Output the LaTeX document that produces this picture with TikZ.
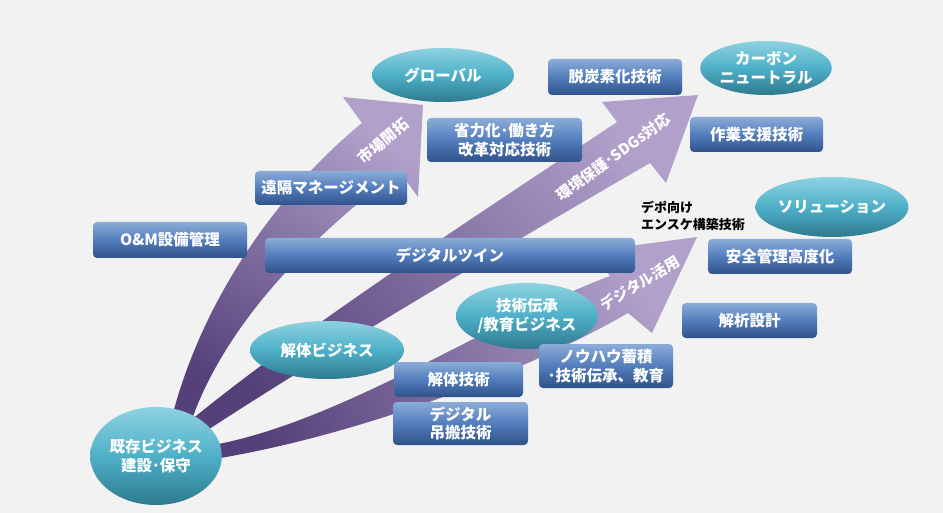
\documentclass[tikz,border=0pt]{standalone}
\usepackage{fontspec}
\usetikzlibrary{shapes.geometric}
\newfontfamily\jp{Noto Sans CJK JP}
\definecolor{bg}{HTML}{F2F2F2}
\definecolor{boxtop}{RGB}{140,172,216}
\definecolor{boxmid}{RGB}{82,125,188}
\definecolor{boxbot}{RGB}{48,82,138}
\definecolor{elltop}{RGB}{142,210,224}
\definecolor{ellmid}{RGB}{78,176,200}
\definecolor{ellbot}{RGB}{46,122,142}
\definecolor{arrdark}{RGB}{86,64,122}
\definecolor{arrlight}{RGB}{176,160,202}
\begin{document}
\begin{tikzpicture}[x=1pt,y=-1pt,
  box/.style={rectangle, rounded corners=4pt, top color=boxtop, bottom color=boxbot, middle color=boxmid,
    text=white, font=\jp\bfseries\fontsize{15.5}{18.5}\selectfont, align=center, inner sep=0pt},
  oval/.style={ellipse, top color=elltop, bottom color=ellbot, middle color=ellmid,
    text=white, font=\jp\bfseries\fontsize{15.5}{18.5}\selectfont, align=center, inner sep=0pt},
  arrlabel/.style={text=white, font=\jp\bfseries\fontsize{15}{18}\selectfont, inner sep=0pt},
  band/.style={top color=arrlight, bottom color=arrdark}
]
\useasboundingbox (0,0) rectangle (943,513);
\fill[bg] (0,0) rectangle (943,513);

% arrows
\shade[band, shading angle=-35]
  (170,425) .. controls (200,300) and (280,190) .. (362,123) -- (343,97) -- (423,105) -- (418,197) -- (399,171)
  .. controls (320,230) and (225,320) .. (190,425) -- cycle;
\shade[band, shading angle=-53]
  (185,425) .. controls (300,330) and (470,220) .. (617,122) -- (602,102) -- (698,95) -- (666,183) -- (650,163)
  .. controls (500,250) and (330,350) .. (200,435) -- cycle;
\shade[band, shading angle=-62]
  (195,448) .. controls (330,430) and (480,325) .. (610,276) -- (592,251) -- (697,237) -- (652,333) -- (628,313)
  .. controls (530,370) and (350,440) .. (195,462) -- cycle;

\node[arrlabel, rotate=40] (lab1) at (383,141) {市場開拓};
\node[arrlabel, rotate=36] (lab2) at (613,157) {環境保護･SDGs対応};
\node[arrlabel, rotate=31] (lab3) at (640,283) {デジタル活用};

% boxes
\node[box, minimum width=152pt, minimum height=34pt] (remote) at (331,188) {遠隔マネージメント};
\node[box, minimum width=155pt, minimum height=44pt] (shoryoku) at (504.5,140) {省力化･働き方\\改革対応技術};
\node[box, minimum width=134pt, minimum height=36pt] (datsu) at (615,77) {脱炭素化技術};
\node[box, minimum width=133pt, minimum height=35pt] (sagyo) at (756.5,134.5) {作業支援技術};
\node[box, minimum width=154pt, minimum height=36pt] (om) at (170,240) {O\&M設備管理};
\node[box, minimum width=370pt, minimum height=35pt] (twin) at (450,255.5) {デジタルツイン};
\node[box, minimum width=144pt, minimum height=35pt] (anzen) at (780,256.5) {安全管理高度化};
\node[box, minimum width=135pt, minimum height=35pt] (kaiseki) at (749.5,320.5) {解析設計};
\node[box, minimum width=129pt, minimum height=35pt] (kaitai) at (458.5,379.5) {解体技術};
\node[box, minimum width=135pt, minimum height=43pt] (tsuri) at (460.5,423.5) {デジタル\\吊搬技術};

% ellipses
\node[oval, minimum width=122pt, minimum height=98pt] (base) at (156,456) {既存ビジネス\\建設･保守};
\node[oval, minimum width=142pt, minimum height=54pt] (global) at (443,75) {グローバル};
\node[oval, minimum width=124pt, minimum height=54pt] (carbon) at (766,68) {カーボン\\ニュートラル};
\node[oval, minimum width=138pt, minimum height=60pt] (solution) at (832,207) {ソリューション};
\node[oval, minimum width=142pt, minimum height=66pt] (gijutsu) at (527,316) {技術伝承\\/教育ビジネス};
\node[oval, minimum width=154pt, minimum height=58pt] (kaitaibiz) at (327,350) {解体ビジネス};

\node[box, minimum width=134pt, minimum height=44pt] (knowhow) at (606,366) {ノウハウ蓄積\\･技術伝承、教育};

\node[anchor=west, align=left, inner sep=0pt, font=\jp\bfseries\fontsize{13}{16.5}\selectfont] (depo) at (641,216) {デポ向け\\エンスケ構築技術};
\end{tikzpicture}
\end{document}
